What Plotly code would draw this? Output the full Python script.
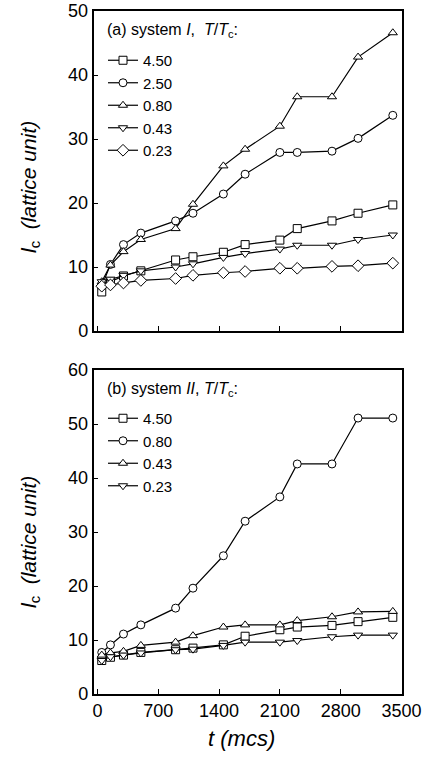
import plotly.graph_objects as go

W, H = 423, 758

# ---------------- data ----------------
t = [50, 150, 300, 500, 900, 1100, 1450, 1700, 2100, 2300, 2700, 3000, 3400]

# panel (a) system I
a_labels = ["4.50", "2.50", "0.80", "0.43", "0.23"]
a_450 = [6.1, 7.7, 8.6, 9.4, 11.1, 11.6, 12.3, 13.5, 14.2, 16.0, 17.2, 18.4, 19.7]
a_250 = [7.0, 10.4, 13.5, 15.3, 17.2, 18.4, 21.4, 24.5, 27.9, 27.9, 28.1, 30.1, 33.7]
a_080 = [7.7, 10.3, 12.4, 14.3, 16.0, 19.8, 25.8, 28.4, 32.0, 36.6, 36.6, 42.8, 46.6]
a_043 = [7.7, 8.1, 8.7, 9.4, 10.0, 10.5, 11.5, 12.1, 12.8, 13.4, 13.4, 14.3, 15.0]
a_023 = [7.0, 7.2, 7.5, 7.9, 8.2, 8.7, 9.1, 9.3, 9.8, 9.8, 10.1, 10.2, 10.6]

# panel (b) system II
b_labels = ["4.50", "0.80", "0.43", "0.23"]
b_450 = [6.2, 6.8, 7.2, 7.7, 8.2, 8.5, 9.1, 10.7, 11.9, 12.4, 12.7, 13.4, 14.2]
b_080 = [7.7, 9.1, 11.1, 12.8, 15.9, 19.6, 25.6, 32.0, 36.5, 42.6, 42.6, 51.1, 51.1]
b_043 = [7.2, 7.6, 7.9, 9.0, 9.6, 10.8, 12.4, 12.8, 12.8, 13.6, 14.3, 15.2, 15.3]
b_023 = [6.2, 6.9, 7.2, 7.6, 8.2, 8.3, 9.0, 9.6, 9.6, 9.9, 10.6, 10.9, 10.9]

x_ticks = [0, 700, 1400, 2100, 2800, 3500]
a_yticks = [0, 10, 20, 30, 40, 50]
b_yticks = [0, 10, 20, 30, 40, 50, 60]

FONT = "Arial, Liberation Sans, Helvetica, sans-serif"

fig = go.Figure()

a_series = [a_450, a_250, a_080, a_043, a_023]
a_symbols = ["square", "circle", "triangle-up", "triangle-down", "diamond"]
for lab, ys, sym in zip(a_labels, a_series, a_symbols):
    fig.add_trace(go.Scatter(
        x=t, y=ys, name=lab, mode="lines+markers",
        line=dict(color="black", width=1.2),
        marker=dict(symbol=sym, size=8 if sym != "diamond" else 9, color="white",
                    line=dict(color="black", width=1)),
        xaxis="x", yaxis="y", legend="legend"))

b_series = [b_450, b_080, b_043, b_023]
b_symbols = ["square", "circle", "triangle-up", "triangle-down"]
for lab, ys, sym in zip(b_labels, b_series, b_symbols):
    fig.add_trace(go.Scatter(
        x=t, y=ys, name=lab, mode="lines+markers",
        line=dict(color="black", width=1.2),
        marker=dict(symbol=sym, size=8, color="white",
                    line=dict(color="black", width=1)),
        xaxis="x2", yaxis="y2", legend="legend2"))

def px_x(p):
    return p / W

def px_y(p):
    return 1 - p / H

x_dom = [px_x(93.5), px_x(401.5)]
axis_common = dict(showline=True, linecolor="black", linewidth=1.5, mirror=True,
                   ticks="inside", ticklen=5, tickwidth=1.2, tickcolor="black",
                   showgrid=False, zeroline=False, automargin=False,
                   ticklabeloverflow="allow",
                   tickfont=dict(family=FONT, size=18, color="black"))

leg_font = dict(family=FONT, size=15, color="black")

fig.update_layout(
    width=W, height=H,
    margin=dict(l=0, r=0, t=0, b=0, pad=0, autoexpand=False),
    paper_bgcolor="white", plot_bgcolor="white",
    font=dict(family=FONT, color="black"),
    xaxis=dict(domain=x_dom, range=[-45, 3500], tickvals=x_ticks,
               showticklabels=False, anchor="y", **axis_common),
    yaxis=dict(domain=[px_y(331), px_y(11)], range=[0, 50], tickvals=a_yticks,
               anchor="x", **axis_common),
    xaxis2=dict(domain=x_dom, range=[-45, 3500], tickvals=x_ticks,
                anchor="y2", **axis_common),
    yaxis2=dict(domain=[px_y(694), px_y(370)], range=[0, 60], tickvals=b_yticks,
                anchor="x2", **axis_common),
    legend=dict(x=px_x(103), y=px_y(44), xanchor="left", yanchor="top",
                bgcolor="rgba(0,0,0,0)", borderwidth=0, font=leg_font,
                tracegroupgap=0, itemsizing="trace"),
    legend2=dict(x=px_x(103), y=px_y(402), xanchor="left", yanchor="top",
                 bgcolor="rgba(0,0,0,0)", borderwidth=0, font=leg_font,
                 tracegroupgap=0, itemsizing="trace"),
    showlegend=True,
    annotations=[
        dict(text="(a) system <i>I</i>,  <i>T</i>/<i>T</i><sub>c</sub>:",
             x=px_x(105), y=px_y(31), xref="paper", yref="paper",
             xanchor="left", yanchor="middle", showarrow=False,
             font=dict(family=FONT, size=16, color="black")),
        dict(text="(b) system <i>II</i>, <i>T</i>/<i>T</i><sub>c</sub>:",
             x=px_x(105), y=px_y(389), xref="paper", yref="paper",
             xanchor="left", yanchor="middle", showarrow=False,
             font=dict(family=FONT, size=16, color="black")),
        dict(text="<i>l</i><sub>c</sub>  <i>(lattice unit)</i>", textangle=-90,
             x=px_x(30), y=px_y(187), xref="paper", yref="paper",
             xanchor="center", yanchor="middle", showarrow=False,
             font=dict(family=FONT, size=21, color="black")),
        dict(text="<i>l</i><sub>c</sub>  <i>(lattice unit)</i>", textangle=-90,
             x=px_x(30), y=px_y(542), xref="paper", yref="paper",
             xanchor="center", yanchor="middle", showarrow=False,
             font=dict(family=FONT, size=21, color="black")),
        dict(text="<i>t (mcs)</i>",
             x=px_x(241), y=px_y(738), xref="paper", yref="paper",
             xanchor="center", yanchor="middle", showarrow=False,
             font=dict(family=FONT, size=22, color="black")),
    ],
)

fig.write_html("out.html",
               config={"displayModeBar": False},
               post_script="document.body.style.margin='0';"
                           "document.body.style.overflow='hidden';")
